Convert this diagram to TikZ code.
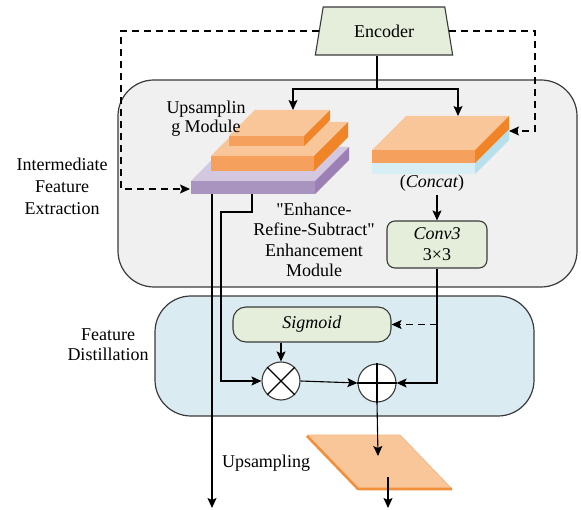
\documentclass[tikz,border=0pt]{standalone}
\usepackage{fontspec}
\setmainfont{Liberation Serif}
% plain family without TeX input mapping, for straight quote marks
\newfontfamily\plainqfont{Liberation Serif}
\newcommand{\sq}{{\plainqfont"}}
\usetikzlibrary{arrows.meta,shapes.geometric}

\definecolor{boxedge}{HTML}{3A3A3A}
\definecolor{grayfill}{HTML}{F0F0F0}
\definecolor{bluefill}{HTML}{DAECF2}
\definecolor{greenfill}{HTML}{E5EEDA}
\definecolor{orTop}{HTML}{F9C69A}
\definecolor{orFront}{HTML}{F5A05C}
\definecolor{orSide}{HTML}{F08426}
\definecolor{puTop}{HTML}{D4C8E0}
\definecolor{puFront}{HTML}{A994BF}
\definecolor{puSide}{HTML}{9B7FB5}
\definecolor{ltFront}{HTML}{D8EEF5}
\definecolor{ltSide}{HTML}{B8E0EC}
\definecolor{paraEdge}{HTML}{F0903A}

% 3-D feature slab: #1,#2 front-top-left corner, #3 width, #4 thickness,
% #5 depth offset, #6 top colour, #7 front colour, #8 side colour
\newcommand{\slabblock}[8]{%
  \fill[#6] ({#1},{#2}) -- ++({#5},{-#5}) -- ++({#3},0) -- ++({-#5},{#5}) -- cycle;
  \fill[#7] ({#1},{#2}) rectangle ++({#3},{#4});
  \fill[#8] ({#1+#3},{#2}) -- ++({#5},{-#5}) -- ++(0,{#4}) -- ++({-#5},{#5}) -- cycle;
}

\begin{document}
\begin{tikzpicture}[x=1pt,y=-1pt,
  font=\fontsize{18}{21}\selectfont,
  arr/.style={-{Stealth[length=10pt,width=9pt,inset=2pt]}},
  conn/.style={draw=black,line width=1.1pt},
  dashline/.style={dash pattern=on 7pt off 5pt},
  panel/.style={draw=boxedge,line width=1.2pt,rounded corners=36pt},
  greenbox/.style={draw=boxedge,line width=1.1pt,fill=greenfill,inner sep=0pt},
  lbl/.style={align=center,inner sep=0pt},
  opcircle/.style={circle,draw=boxedge,line width=1.1pt,fill=white,minimum size=38pt,inner sep=0pt}
]
\useasboundingbox (0,0) rectangle (581,510);

% stage panels
\draw[panel,fill=grayfill] (118,80) rectangle (577,287);
\draw[panel,fill=bluefill] (155,296) rectangle (534,416);

% encoder
\node[trapezium,trapezium stretches=true,trapezium left angle=73,trapezium right angle=73,
      draw=boxedge,fill=greenfill,line width=1.1pt,minimum width=138pt,minimum height=48pt,
      inner sep=0pt] (enc) at (384,31) {Encoder};

% key points on the slabs and the output block
\coordinate (upin) at (293,110);
\coordinate (catin) at (458,116);
\coordinate (catside) at (509,131);
\coordinate (puin) at (190,189);
\coordinate (pu1) at (212,194);
\coordinate (pu2) at (252,194);
\coordinate (bend) at (221,212);
\coordinate (outA) at (212,508);
\coordinate (split) at (377,89);
\coordinate (catlow) at (437,195);
\coordinate (pin) at (378,456);
\coordinate (pout) at (388,477);
\coordinate (outB) at (388,508);
\coordinate (dl) at (121,31);
\coordinate (dr) at (535,31);

% skip connections from the encoder
\draw[conn,dashline,arr] (enc.left side) -- (dl) |- (puin);
\draw[conn,dashline,arr] (enc.right side) -- (dr) |- (catside);

% upsampling stack over the enhancement slab
\slabblock{191}{181}{124}{13}{34}{puTop}{puFront}{puSide}
\slabblock{211}{156}{103}{15}{34}{orTop}{orFront}{orSide}
\slabblock{229}{136}{75}{10}{26}{orTop}{orFront}{orSide}

% concatenated slab
\slabblock{372}{163}{103}{11}{34}{ltFront}{ltFront}{ltSide}
\slabblock{372}{150}{103}{13}{34}{orTop}{orFront}{orSide}

% labels
\node[lbl,font=\fontsize{18}{22}\selectfont] (lblife) at (62,186) {Intermediate\\Feature\\Extraction};
\node[lbl,font=\fontsize{18}{20}\selectfont] (lblfd) at (108,345) {Feature\\Distillation};
\node[lbl,font=\fontsize{18}{19.5}\selectfont] (lblup) at (206,118.5) {Upsamplin\\g Module};
\node[lbl,font=\fontsize{18}{20.5}\selectfont] (lbler) at (314,240) {\sq Enhance-\\Refine-Subtract\sq\\Enhancement\\Module};
\node[lbl] (lblcat) at (432,183) {(\textit{Concat})};
\node[lbl] (lblups) at (266,463) {Upsampling};

% operator boxes
\node[greenbox,rounded corners=8pt,minimum width=100pt,minimum height=47pt,align=center]
  (conv) at (437,244.5) {\textit{Conv3}\\3×3};
\node[greenbox,rounded corners=13pt,minimum width=158pt,minimum height=35pt]
  (sig) at (312,324.5) {\textit{Sigmoid}};
\node[opcircle] (times) at (281,381) {};
\node[opcircle] (plus) at (377,383) {};
\draw[black,line width=1.1pt] (times.north east) -- (times.south west)
  (times.north west) -- (times.south east);
\draw[black,line width=1.1pt] (plus.north) -- (plus.south) (plus.west) -- (plus.east);

% output upsampling block
\fill[orTop] (307,435) -- (400,435) -- (451,488) -- (358,488) -- cycle;
\draw[orFront!80,line width=0.7pt,line join=round] (307,435) -- (400,435) -- (451,488);
\draw[paraEdge,line width=2.6pt,line join=round] (307,436) -- (358,489) -- (452,489);

% encoder to both branches
\draw[conn] (split |- enc.south) -- (split);
\draw[conn,arr] (split) -| (upin);
\draw[conn,arr] (split) -| (catin);

% enhancement branch
\draw[conn,arr] (pu1) -- (outA);
\draw[conn,arr] (pu2) |- (bend) |- (times.west);

% fusion branch
\draw[conn,arr] (catlow) -- (conv.north);
\draw[conn,arr] (conv.south) |- (plus.east);
\draw[conn,dashline,arr] (conv.south |- sig.east) -- (sig.east);
\draw[conn,arr] (times.north |- sig.south) -- (times.north);
\draw[conn,arr] (times.east) -- (plus.west);
\draw[conn,arr] (plus.south) -- (pin);
\draw[conn,arr] (pout) -- (outB);
\end{tikzpicture}
\end{document}
